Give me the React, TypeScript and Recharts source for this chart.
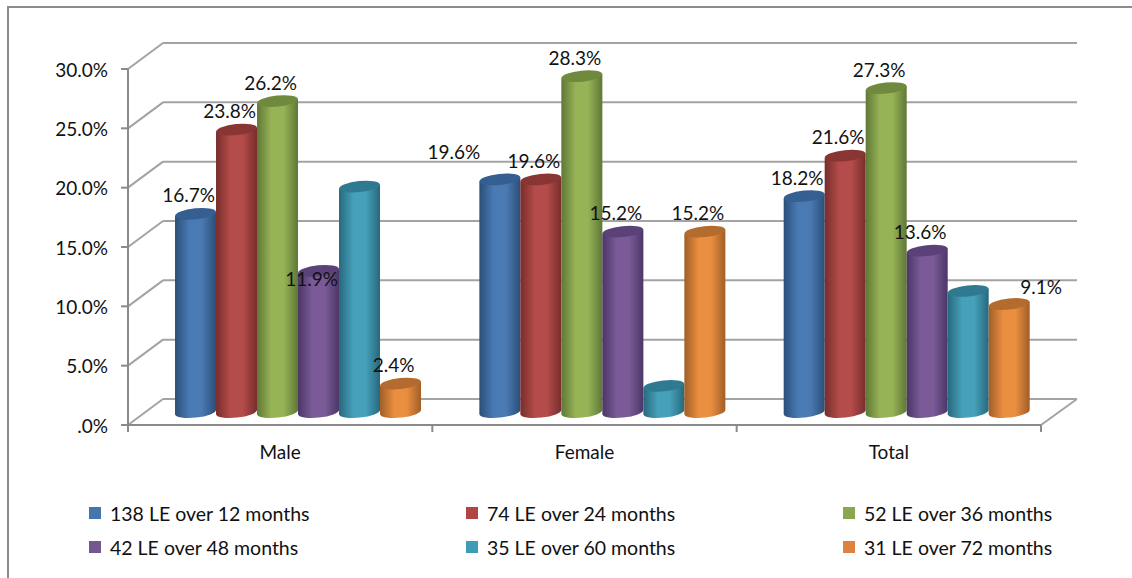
// @ts-nocheck
import React from 'react';
import { BarChart, Bar, XAxis, YAxis, CartesianGrid, Legend, LabelList } from 'recharts';

const categories = ['Male', 'Female', 'Total'];
const le138 = [16.7, 19.6, 18.2];
const le74 = [23.8, 19.6, 21.6];
const le52 = [26.2, 28.3, 27.3];
const le42 = [11.9, 15.2, 13.6];
const le35 = [19.0, 2.2, 10.2];
const le31 = [2.4, 15.2, 9.1];
const yTicks = [0, 5, 10, 15, 20, 25, 30];

const rows = categories.map((name, i) => ({
  name, le138: le138[i], le74: le74[i], le52: le52[i], le42: le42[i], le35: le35[i], le31: le31[i],
}));

// legend colour, then the cylinder's edge, bright and lid colours
const SERIES = [
  { key: 'le138', name: '138 LE over 12 months', fill: '#4676ab', edge: '#2a4f78', light: '#4a7ab3', lid: '#365f91', labels: true },
  { key: 'le74', name: '74 LE over 24 months', fill: '#b04543', edge: '#772d2c', light: '#b34c4a', lid: '#893533', labels: true },
  { key: 'le52', name: '52 LE over 36 months', fill: '#8aa64f', edge: '#5f7836', light: '#96b356', lid: '#6f8a3c', labels: true },
  { key: 'le42', name: '42 LE over 48 months', fill: '#75568f', edge: '#4b3666', light: '#7a5b98', lid: '#5a4279', labels: true },
  { key: 'le35', name: '35 LE over 60 months', fill: '#3f9ab4', edge: '#27687d', light: '#45a0b9', lid: '#2f7a91', labels: false },
  { key: 'le31', name: '31 LE over 72 months', fill: '#de8240', edge: '#a05e28', light: '#ea8e40', lid: '#b46c2e', labels: true },
];

const FONT = 'Lato, sans-serif';
const GRID = '#a3a3a3';
const AXIS = '#8a8a8a';
const DEPTH_X = 35;
const DEPTH_Y = 26;
const BAND = 913 / categories.length;
const TILT = -6;

// labels that Excel pushed away from the usual spot
const LABEL_SHIFT = { 'le42-0': [0, 27], 'le138-1': [-39, -9], 'le31-2': [39, 1] };

function gridLine(p) {
  const { x1, x2, y1 } = p;
  const by = y1 - DEPTH_Y;
  return (
    <g key={`grid-${y1}`} stroke={GRID} strokeWidth={2} fill="none">
      <line x1={x1} y1={y1} x2={x1 + DEPTH_X} y2={by} />
      <line x1={x1 + DEPTH_X} y1={by} x2={x2 + DEPTH_X + 1} y2={by} />
      {Math.abs(y1 - 425) < 1 && <line x1={x2} y1={y1} x2={x2 + DEPTH_X + 1} y2={by} />}
    </g>
  );
}

function Cylinder(props) {
  const { x, y, width, height, series } = props;
  const left = x + DEPTH_X / 2;
  const right = left + width;
  const rx = width / 2;
  const ry = 5.5;
  const top = y - DEPTH_Y / 2;
  const base = top + height;
  const dy = rx * Math.sin((-TILT * Math.PI) / 180);
  const body = `M${left},${top + dy} L${left},${base + dy} A${rx},${ry} ${TILT} 0 0 ${right},${base - dy} L${right},${top - dy} Z`;
  return (
    <g>
      <path d={body} fill={`url(#cyl-${series.key})`} />
      <ellipse cx={left + rx} cy={top} rx={rx} ry={ry} fill={series.lid} transform={`rotate(${TILT} ${left + rx} ${top})`} />
    </g>
  );
}

function barLabel(series) {
  return (p) => {
    const shift = LABEL_SHIFT[`${series.key}-${p.index}`] || [0, 0];
    const cx = p.x + DEPTH_X / 2 + p.width / 2 - 7 + shift[0];
    const cy = p.y - DEPTH_Y / 2 - 19 + shift[1];
    return (
      <text x={cx} y={cy} textAnchor="middle" dominantBaseline="central" fontSize={19} fontFamily={FONT} fill="#111">
        {p.value.toFixed(1)}%
      </text>
    );
  };
}

function CategoryTick({ x, y, payload, index }) {
  const edge = x - BAND / 2;
  return (
    <g>
      <line x1={edge} y1={y - 8} x2={edge} y2={y - 1} stroke={AXIS} strokeWidth={2} />
      {index === categories.length - 1 && (
        <line x1={edge + BAND} y1={y - 8} x2={edge + BAND} y2={y - 1} stroke={AXIS} strokeWidth={2} />
      )}
      <text x={x} y={y + 18} textAnchor="middle" dominantBaseline="central" fontSize={19} fontFamily={FONT} fill="#111">
        {payload.value}
      </text>
    </g>
  );
}

const LEGEND_X = [89, 466, 843];
const LEGEND_Y = [513, 547];

function LegendGrid({ payload }) {
  return (
    <div style={{ position: 'relative', width: 1132, height: 78 }}>
      {payload.map((item, i) => (
        <div key={item.value} style={{ position: 'absolute', left: LEGEND_X[i % 3], top: LEGEND_Y[Math.floor(i / 3)] - 500 - 12, height: 24, display: 'flex', alignItems: 'center', fontFamily: FONT, fontSize: 19.5, color: '#111', whiteSpace: 'nowrap' }}>
          <span style={{ display: 'inline-block', width: 12, height: 12, background: item.color, marginRight: 9 }} />
          {item.value}
        </div>
      ))}
    </div>
  );
}

export default function App() {
  return (
    <div style={{ position: 'absolute', left: 0, top: 0, width: 1132, height: 578, background: '#fff', overflow: 'hidden' }}>
      <div style={{ position: 'absolute', left: 7, top: 6, width: 1125, height: 572, borderLeft: '2px solid #8c8c8c', borderTop: '2px solid #8c8c8c', boxSizing: 'border-box' }} />
      <BarChart
        width={1132}
        height={578}
        data={rows}
        margin={{ top: 69, right: 91, bottom: 123, left: 48 }}
        barGap={0}
        barCategoryGap="9.7%"
        style={{ position: 'absolute', left: 0, top: 0 }}
      >
        <defs>
          {SERIES.map((s) => (
            <linearGradient key={s.key} id={`cyl-${s.key}`} x1="0" y1="0" x2="1" y2="0">
              <stop offset="0%" stopColor={s.edge} />
              <stop offset="35%" stopColor={s.light} />
              <stop offset="65%" stopColor={s.light} />
              <stop offset="100%" stopColor={s.edge} />
            </linearGradient>
          ))}
        </defs>
        <CartesianGrid horizontal={gridLine} vertical={false} />
        <XAxis dataKey="name" height={30} axisLine={{ stroke: AXIS, strokeWidth: 2 }} tickLine={false} tick={CategoryTick} interval={0} />
        <YAxis
          width={80}
          domain={[0, 30]}
          ticks={yTicks}
          interval={0}
          axisLine={{ stroke: AXIS, strokeWidth: 2 }}
          tickLine={{ stroke: AXIS, strokeWidth: 2 }}
          tickSize={7}
          tickMargin={13}
          tick={{ fontSize: 19, fontFamily: FONT, fill: '#111', dy: 1 }}
          tickFormatter={(v) => (v === 0 ? '.0%' : `${v.toFixed(1)}%`)}
        />
        <Legend
          layout="horizontal"
          verticalAlign="middle"
          align="center"
          itemSorter={null}
          wrapperStyle={{ left: 0, top: 500, width: 1132, height: 78 }}
          content={LegendGrid}
        />
        {SERIES.map((s) => (
          <Bar key={s.key} dataKey={s.key} name={s.name} fill={s.fill} isAnimationActive={false} shape={(p) => <Cylinder {...p} series={s} />}>
            {s.labels && <LabelList dataKey={s.key} content={barLabel(s)} />}
          </Bar>
        ))}
      </BarChart>
    </div>
  );
}
